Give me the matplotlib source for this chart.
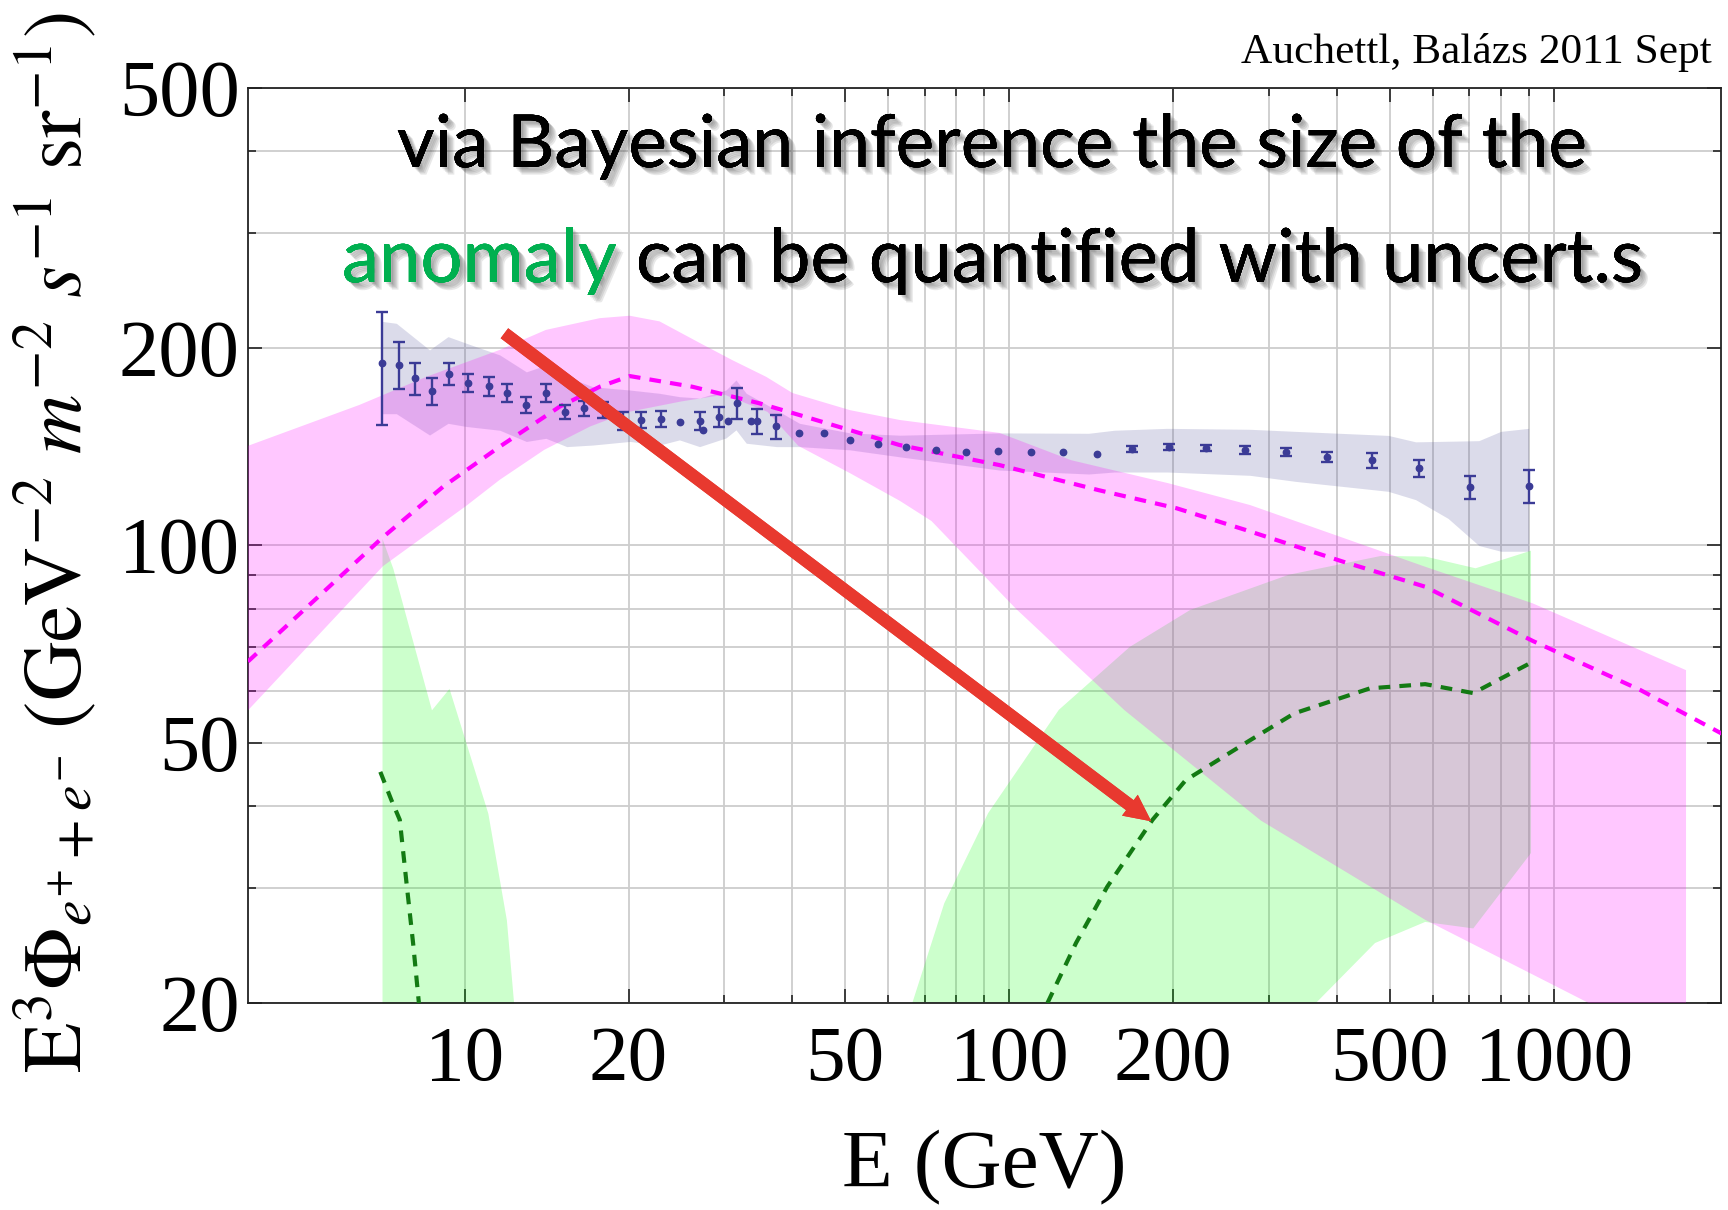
import numpy as np
import matplotlib
matplotlib.use('Agg')
import matplotlib.pyplot as plt
from matplotlib.ticker import FixedLocator, FuncFormatter, NullFormatter
import matplotlib.patheffects as pe

plt.rcParams['mathtext.fontset'] = 'stix'

# ---------------- data ----------------
# measured e+ + e- flux points
data_E = [7.05, 7.56, 8.09, 8.70, 9.36, 10.16, 11.1, 11.96, 12.98, 14.08, 15.26, 16.56,
          17.98, 19.5, 21.1, 22.97, 24.9, 27.0, 27.4, 29.3, 30.4, 31.7, 33.5, 34.5, 37.3,
          41.2, 45.8, 51.1, 57.4, 64.7, 73.3, 83.4, 95.4, 109.5, 125.6, 145.2, 168.4,
          196.6, 229.6, 271.6, 322, 384, 464.5, 567, 703, 900]
data_v = [190, 189, 180, 172, 183, 177, 175, 171, 164, 171, 160, 162, 161, 155, 155.5,
          156, 154.5, 155, 150, 157, 155, 165, 155, 155, 152, 148.6, 148.4, 145, 143,
          141.6, 140, 139, 139.4, 139, 138.9, 138, 140.3, 141.2, 141, 140, 139, 136.6,
          135, 131.2, 122.7, 123.3]
data_err = [37, 15.5, 10, 8, 7, 5.7, 5.6, 5.6, 4.5, 5.4, 4.2, 4.3, 4.5, 4.8, 4.3, 4.4,
            0, 5, 0, 5.5, 0, 9.2, 0, 6.8, 6.5, 0, 0, 0, 0, 0, 0, 0, 0, 0, 0, 0, 1.5, 1.5,
            1.5, 2, 2, 2.5, 3.5, 4, 5, 7]

# data uncertainty band (lavender)
lav_E = [7.05, 7.49, 8.62, 9.32, 10.07, 11.6, 12.98, 14.1, 15.4, 17.2, 20.1, 22.8, 24.8,
         27.0, 30.2, 31.5, 32.9, 37.4, 41.2, 51, 63, 96, 140, 156, 195, 277, 336, 497,
         558, 640, 729, 800, 900]
lav_hi = [220, 218.5, 199, 208.5, 203.7, 195.5, 184.2, 188.6, 181, 174.8, 172.8, 170.8,
          168.8, 168, 172.8, 179, 170.8, 161, 153.7, 148.6, 147.4, 148.6, 148.4, 150, 151,
          150.5, 149.4, 147.3, 144, 144.3, 144.6, 149.4, 151]
lav_lo = [159, 159, 147.5, 153.7, 152, 150, 144.2, 145.8, 141.6, 142.4, 144.2, 142.4, 145,
          141.6, 146, 150.2, 143.3, 141.6, 141.6, 140, 136.6, 130.4, 128.6, 129.5, 129.5,
          128, 125.3, 121, 117.5, 110, 100, 98, 98]

# background prediction band (magenta)
pink_up_E = [4.0, 6.41, 8.5, 11.6, 14.1, 17.7, 20.1, 22.8, 27, 31, 35.8, 40, 51, 63, 96,
             130, 196, 277, 581, 915, 1751]
pink_up_v = [142, 164, 181, 199, 213.5, 222.5, 224.4, 220, 204, 192, 181, 171, 161, 155.5,
             148.6, 135, 124.5, 115.3, 92.8, 81.6, 64.5]
pink_lo_E = [4.0, 7.08, 10.07, 11.6, 14, 17, 20, 25, 30, 36, 41, 51, 63, 72, 103, 163, 290,
             581, 1160, 1751]
pink_lo_v = [56, 93, 115, 126, 140, 152, 160, 166, 170, 160, 142, 129, 117, 109, 80, 56, 38,
             26.8, 20, 15]
pink_mid_E = [4.0, 7.08, 9.13, 11.6, 14.95, 17.7, 20.1, 26.2, 34.7, 42, 62.9, 96, 146, 203,
              272, 410, 581, 915, 1446, 2036]
pink_mid_v = [66.5, 103, 123, 141.6, 163, 174.8, 181.5, 174.8, 165, 157.5, 142.4, 132.7,
              121.5, 114, 105.6, 94.5, 86.5, 71.5, 60.1, 51.6]

# anomaly band (green), low-energy part
glow_E = [7.05, 7.38, 8.69, 9.36, 11.03, 11.93, 12.3]
glow_up = [102.5, 92.3, 56.1, 60.5, 39, 26.8, 20]
glow_mid_E = [7.0, 7.33, 7.6, 7.82, 8.04, 8.24]
glow_mid_v = [45.1, 40.9, 38.1, 30.5, 24.7, 20]
# anomaly band (green), high-energy part
ghi_up_E = [66.4, 76, 91.5, 123.4, 166.6, 215, 326, 482, 581, 719, 909]
ghi_up_v = [20, 28.4, 39, 56.1, 70, 79.7, 90.2, 96.4, 96.2, 92.3, 98.2]
ghi_lo_E = [366, 470, 581, 712, 909]
ghi_lo_v = [20, 24.7, 26.6, 26.0, 33.9]
ghi_mid_E = [117.6, 132.7, 151.4, 183.4, 211, 277, 334, 460, 581, 712, 918]
ghi_mid_v = [20, 24.7, 30.1, 38.1, 43.8, 50.4, 55.4, 60.5, 61.4, 59.5, 66.5]

# arrow (from, to)
arrow_from = (11.83, 211)
arrow_to = (182.4, 37.9)

x_major = [10, 20, 50, 100, 200, 500, 1000]
x_minor = [30, 40, 60, 70, 80, 90, 300, 400, 600, 700, 800, 900]
y_major = [20, 50, 100, 200, 500]
y_minor = [30, 40, 60, 70, 80, 90, 300, 400]

# ---------------- figure ----------------
W, H = 1728, 1210
fig = plt.figure(figsize=(W / 100, H / 100), dpi=100)
L, R, T, B = 248, 1721, 88, 1003
ax = fig.add_axes([L / W, 1 - B / H, (R - L) / W, (B - T) / H])
ax.set_xscale('log')
ax.set_yscale('log')
ax.set_xlim(4.0, 2030)
ax.set_ylim(20, 500)

# bands (green and lavender first, magenta on top)
ax.fill_between(lav_E, lav_lo, lav_hi, color=(0.3, 0.3, 0.6), alpha=0.2, lw=0, zorder=2)
ax.fill_between(glow_E, 10, glow_up, color=(0, 1, 0), alpha=0.2, lw=0, zorder=2)
ax.fill(ghi_up_E + ghi_lo_E[::-1], ghi_up_v + ghi_lo_v[::-1],
        color=(0, 1, 0), alpha=0.2, lw=0, zorder=2)
ax.fill(pink_up_E + pink_lo_E[::-1], pink_up_v + pink_lo_v[::-1],
        color=(1, 0, 1), alpha=0.22, lw=0, zorder=3)

# dashed central curves
dash = (0, (2.8, 2.2))
ax.plot(pink_mid_E, pink_mid_v, color='#ff00ff', lw=3.0, ls=dash, zorder=4)
ax.plot(glow_mid_E, glow_mid_v, color='#137a13', lw=3.0, ls=dash, zorder=4)
ax.plot(ghi_mid_E, ghi_mid_v, color='#137a13', lw=3.0, ls=dash, zorder=4)

# data
pc = '#3b3b96'
eE = [e for e, s in zip(data_E, data_err) if s > 0]
eV = [v for v, s in zip(data_v, data_err) if s > 0]
eS = [s for s in data_err if s > 0]
ax.errorbar(eE, eV, yerr=eS, fmt='none', ecolor=pc, elinewidth=1.7, capsize=4,
            capthick=1.7, zorder=5)
ax.plot(data_E, data_v, 'o', ms=4.6, color=pc, zorder=6)

# grid & ticks
ax.xaxis.set_major_locator(FixedLocator(x_major))
ax.xaxis.set_minor_locator(FixedLocator(x_minor))
ax.yaxis.set_major_locator(FixedLocator(y_major))
ax.yaxis.set_minor_locator(FixedLocator(y_minor))
fmt = FuncFormatter(lambda v, p: '%d' % round(v))
ax.xaxis.set_major_formatter(fmt)
ax.yaxis.set_major_formatter(fmt)
ax.xaxis.set_minor_formatter(NullFormatter())
ax.yaxis.set_minor_formatter(NullFormatter())
ax.grid(True, which='both', color='#cdcdcd', lw=1.3, zorder=1)
ax.set_axisbelow(True)
ax.tick_params(which='both', direction='in', top=True, right=True, width=1.2,
               color='#222222')
ax.tick_params(which='major', length=10)
ax.tick_params(which='minor', length=6)
ax.tick_params(axis='x', which='major', pad=16)
ax.tick_params(axis='y', which='major', pad=6)
for lab in ax.get_xticklabels():
    lab.set_fontfamily('Liberation Serif')
    lab.set_fontsize(57)
for lab in ax.get_yticklabels():
    lab.set_fontfamily('Liberation Serif')
    lab.set_fontsize(58)
for s in ax.spines.values():
    s.set_linewidth(1.3)
    s.set_color('#222222')

# arrow
ax.annotate('', xy=arrow_to, xytext=arrow_from,
            arrowprops=dict(arrowstyle='-|>,head_length=0.45,head_width=0.22',
                            color='#e8392f', lw=9, shrinkA=0, shrinkB=0,
                            joinstyle='miter', capstyle='butt',
                            path_effects=[pe.withSimplePatchShadow(offset=(2, -2),
                                                                   shadow_rgbFace='#7a2020',
                                                                   alpha=0.4),
                                          pe.Normal()]),
            zorder=8)

# texts
fx = lambda px: px / W
fy = lambda py: 1 - py / H
shadow = [pe.withSimplePatchShadow(offset=(o, -o), shadow_rgbFace='#333333', alpha=0.11)
          for o in (1.5, 2.5, 3.5, 4.5, 5.5)] + [pe.Normal()]

t1 = fig.text(fx(397), fy(167), 'via Bayesian inference the size of the',
              family='Lato', fontsize=46, color='black', va='baseline', ha='left',
              path_effects=shadow, zorder=10)
t2a = fig.text(fx(342), fy(282), 'anomaly', family='Lato', fontsize=46,
               color='#00b050', va='baseline', ha='left', path_effects=shadow, zorder=10)
t2b = ax.annotate(' can be quantified with uncert.s', xy=(1, 0), xycoords=t2a,
                  family='Lato', fontsize=46, color='black', va='bottom', ha='left',
                  path_effects=shadow, zorder=10, annotation_clip=False)

att = fig.text(fx(1712), fy(63), 'Auchettl, Balázs 2011 Sept', family='Liberation Serif',
               fontsize=30, color='black', ha='right', va='baseline')

ylab = fig.text(fx(55), fy(543),
                r'$\mathrm{E}^{3}\Phi_{e^{+}+e^{-}}\ (\mathrm{GeV}^{-2}\ m^{-2}\ s^{-1}\ \mathrm{sr}^{-1})$',
                rotation=90, ha='center', va='center', fontsize=50)
xlab = fig.text(fx(984), fy(1168), 'E (GeV)', family='Liberation Serif', fontsize=60,
                ha='center', va='center')

# fit text sizes to the measured extents
fig.canvas.draw()
r = fig.canvas.get_renderer()
def fit(t, target, dim='w'):
    bb = t.get_window_extent(r)
    cur = bb.width if dim == 'w' else bb.height
    t.set_fontsize(t.get_fontsize() * target / cur)

fit(t1, 1190)
w2 = t2a.get_window_extent(r).width + t2b.get_window_extent(r).width
k = 1300 / w2
t2a.set_fontsize(t2a.get_fontsize() * k)
t2b.set_fontsize(t2b.get_fontsize() * k)
fit(att, 470)
fit(ylab, 1063, 'h')

fig.savefig('out.png', dpi=100)
